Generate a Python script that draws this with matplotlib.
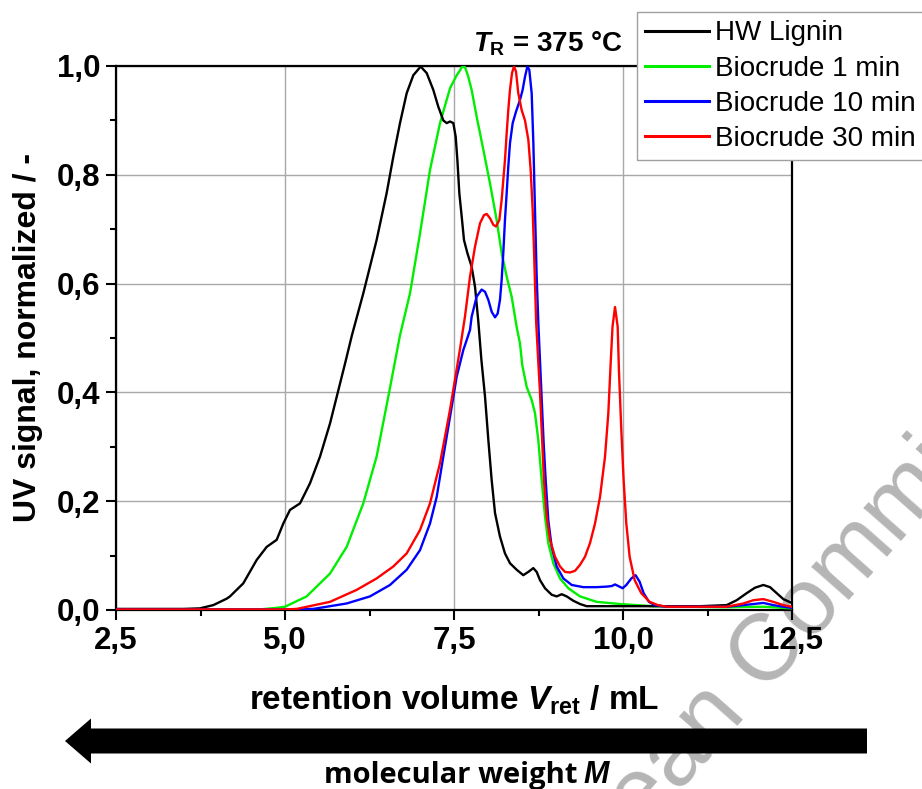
import matplotlib
matplotlib.use("Agg")
import matplotlib.pyplot as plt
from matplotlib.ticker import MultipleLocator, FixedLocator, FixedFormatter
from matplotlib.patches import FancyArrow

plt.rcParams['font.family'] = ['Liberation Sans', 'DejaVu Sans']
plt.rcParams['font.weight'] = 'bold'
plt.rcParams['mathtext.fontset'] = 'custom'
plt.rcParams['mathtext.rm'] = 'Liberation Sans:bold'
plt.rcParams['mathtext.bf'] = 'Liberation Sans:bold'
plt.rcParams['mathtext.it'] = 'Liberation Sans:italic:bold'

# ---------------- data ----------------
lignin_x = [2.5, 3.0, 3.5, 3.74, 3.94, 4.14, 4.186, 4.383, 4.581, 4.729, 4.877, 4.975, 5.074,
            5.222, 5.370, 5.518, 5.666, 5.765, 5.888, 5.99, 6.158, 6.355, 6.503, 6.602, 6.701,
            6.800, 6.898, 7.007, 7.096, 7.194, 7.268, 7.342, 7.392, 7.441, 7.490, 7.525, 7.550,
            7.579, 7.614, 7.648, 7.698, 7.761, 7.811, 7.860, 7.905, 7.959, 8.008, 8.057, 8.107,
            8.180, 8.254, 8.328, 8.427, 8.525, 8.599, 8.673, 8.723, 8.772, 8.846, 8.945, 9.019,
            9.093, 9.167, 9.265, 9.364, 9.462, 9.955, 10.40, 11.14, 11.534, 11.682, 11.83,
            11.953, 12.076, 12.175, 12.273, 12.372, 12.495]
lignin_y = [0.002, 0.002, 0.002, 0.003, 0.009, 0.021, 0.025, 0.049, 0.092, 0.116, 0.129, 0.159,
            0.184, 0.196, 0.233, 0.282, 0.343, 0.392, 0.453, 0.505, 0.582, 0.680, 0.766, 0.833,
            0.895, 0.950, 0.983, 0.999, 0.987, 0.956, 0.925, 0.900, 0.895, 0.898, 0.895, 0.870,
            0.827, 0.766, 0.723, 0.680, 0.656, 0.631, 0.594, 0.530, 0.460, 0.392, 0.3125, 0.239,
            0.178, 0.135, 0.104, 0.086, 0.074, 0.064, 0.070, 0.077, 0.070, 0.055, 0.040, 0.028,
            0.025, 0.029, 0.025, 0.017, 0.011, 0.007, 0.007, 0.007, 0.007, 0.009, 0.018, 0.031,
            0.041, 0.046, 0.042, 0.031, 0.020, 0.013]

bio1_x = [2.5, 4.0, 4.63, 4.877, 5.0, 5.32, 5.666, 5.912, 6.158, 6.355, 6.528, 6.701, 6.849,
          6.997, 7.145, 7.293, 7.441, 7.540, 7.589, 7.614, 7.663, 7.712, 7.761, 7.835, 7.934,
          8.033, 8.131, 8.205, 8.279, 8.353, 8.427, 8.476, 8.51, 8.575, 8.649, 8.698, 8.747,
          8.797, 8.846, 8.895, 8.969, 9.068, 9.191, 9.364, 9.610, 9.955, 10.448, 11.5, 12.076,
          12.495]
bio1_y = [0.001, 0.001, 0.001, 0.004, 0.006, 0.025, 0.067, 0.116, 0.196, 0.282, 0.392, 0.505,
          0.582, 0.692, 0.809, 0.895, 0.959, 0.983, 0.992, 0.998, 0.998, 0.980, 0.956, 0.907,
          0.846, 0.784, 0.717, 0.656, 0.613, 0.576, 0.520, 0.490, 0.450, 0.410, 0.386, 0.362,
          0.3125, 0.239, 0.172, 0.123, 0.086, 0.058, 0.040, 0.025, 0.015, 0.011, 0.007, 0.005,
          0.006, 0.003]

bio10_x = [2.5, 5.0, 5.419, 5.912, 6.257, 6.553, 6.8, 6.997, 7.145, 7.244, 7.342, 7.441, 7.540,
           7.638, 7.687, 7.737, 7.761, 7.835, 7.909, 7.959, 8.008, 8.058, 8.107, 8.146, 8.180,
           8.205, 8.229, 8.254, 8.279, 8.303, 8.328, 8.368, 8.417, 8.476, 8.515, 8.55, 8.585,
           8.614, 8.649, 8.674, 8.698, 8.723, 8.75, 8.775, 8.80, 8.825, 8.856, 8.895, 8.945,
           9.019, 9.118, 9.241, 9.413, 9.61, 9.758, 9.833, 9.882, 9.931, 9.995, 10.049, 10.123,
           10.186, 10.246, 10.305, 10.384, 10.467, 10.646, 11.534, 11.78, 11.93, 12.076, 12.223,
           12.372, 12.495]
bio10_y = [0.001, 0.001, 0.002, 0.012, 0.025, 0.046, 0.074, 0.110, 0.159, 0.208, 0.282, 0.355,
           0.429, 0.478, 0.496, 0.515, 0.539, 0.576, 0.589, 0.585, 0.570, 0.548, 0.538, 0.545,
           0.570, 0.607, 0.656, 0.717, 0.766, 0.815, 0.858, 0.895, 0.916, 0.9375, 0.956, 0.980,
           0.999, 0.993, 0.950, 0.858, 0.735, 0.613, 0.520, 0.450, 0.380, 0.310, 0.239, 0.165,
           0.116, 0.080, 0.058, 0.046, 0.042, 0.042, 0.043, 0.044, 0.047, 0.044, 0.040, 0.046,
           0.058, 0.064, 0.052, 0.031, 0.015, 0.009, 0.006, 0.006, 0.009, 0.011, 0.013, 0.009,
           0.006, 0.004]

bio30_x = [2.5, 5.0, 5.173, 5.666, 6.060, 6.355, 6.602, 6.8, 6.997, 7.145, 7.293, 7.441, 7.589,
           7.663, 7.737, 7.811, 7.885, 7.944, 7.984, 8.033, 8.082, 8.121, 8.171, 8.205, 8.229,
           8.254, 8.279, 8.303, 8.328, 8.358, 8.387, 8.417, 8.451, 8.501, 8.550, 8.600, 8.634,
           8.664, 8.688, 8.715, 8.745, 8.772, 8.797, 8.831, 8.871, 8.92, 8.994, 9.068, 9.142,
           9.216, 9.29, 9.364, 9.438, 9.512, 9.586, 9.66, 9.734, 9.783, 9.815, 9.845, 9.882,
           9.921, 9.94, 9.975, 10.009, 10.049, 10.098, 10.172, 10.27, 10.393, 10.516, 10.646,
           11.534, 11.78, 11.93, 12.076, 12.223, 12.372, 12.495]
bio30_y = [0.001, 0.001, 0.002, 0.015, 0.037, 0.058, 0.080, 0.104, 0.147, 0.196, 0.270, 0.368,
           0.480, 0.540, 0.613, 0.668, 0.711, 0.726, 0.728, 0.720, 0.708, 0.705, 0.717, 0.754,
           0.790, 0.827, 0.876, 0.919, 0.956, 0.987, 0.999, 0.990, 0.950, 0.919, 0.900, 0.864,
           0.809, 0.735, 0.643, 0.530, 0.460, 0.400, 0.331, 0.239, 0.172, 0.129, 0.098, 0.080,
           0.070, 0.069, 0.072, 0.083, 0.098, 0.123, 0.159, 0.208, 0.282, 0.362, 0.447, 0.521,
           0.557, 0.521, 0.440, 0.331, 0.239, 0.159, 0.098, 0.055, 0.031, 0.015, 0.009, 0.006,
           0.006, 0.012, 0.018, 0.020, 0.015, 0.009, 0.006]

series_labels = ["HW Lignin", "Biocrude 1 min", "Biocrude 10 min", "Biocrude 30 min"]
series_colors = ["black", "#00ee00", "#0000ff", "#ff0000"]

xtick_vals = [2.5, 5.0, 7.5, 10.0, 12.5]
xtick_labels = ["2,5", "5,0", "7,5", "10,0", "12,5"]
ytick_vals = [0.0, 0.2, 0.4, 0.6, 0.8, 1.0]
ytick_labels = ["0,0", "0,2", "0,4", "0,6", "0,8", "1,0"]

# ---------------- figure ----------------
W, H = 922, 789
fig = plt.figure(figsize=(W / 100, H / 100), dpi=100)
ax = fig.add_axes([116 / W, 1 - 610 / H, (792 - 116) / W, (610 - 66) / H])
ax.patch.set_alpha(0)

xs = [lignin_x, bio1_x, bio10_x, bio30_x]
ys = [lignin_y, bio1_y, bio10_y, bio30_y]
order = [1, 0, 2, 3]
lines = {}
for i in order:
    ln, = ax.plot(xs[i], ys[i], color=series_colors[i], lw=1.7, label=series_labels[i],
                  zorder=3, solid_joinstyle='round')
    lines[i] = ln

ax.set_xlim(2.5, 12.5)
ax.set_ylim(0, 1.0)
ax.xaxis.set_major_locator(FixedLocator(xtick_vals))
ax.xaxis.set_major_formatter(FixedFormatter(xtick_labels))
ax.yaxis.set_major_locator(FixedLocator(ytick_vals))
ax.yaxis.set_major_formatter(FixedFormatter(ytick_labels))
ax.xaxis.set_minor_locator(MultipleLocator(1.25))
ax.yaxis.set_minor_locator(MultipleLocator(0.1))
ax.tick_params(which='major', direction='out', length=7.5, width=1.5, labelsize=22.5, pad=4,
               top=False, right=False)
ax.tick_params(which='minor', direction='out', length=4.5, width=1.5, top=False, right=False)
for lab in ax.get_xticklabels() + ax.get_yticklabels():
    lab.set_fontweight('bold')
for sp in ax.spines.values():
    sp.set_linewidth(1.6)
ax.grid(True, which='major', color='#a8a8a8', lw=1.0, zorder=0)
ax.set_axisbelow(True)

ax.set_xlabel(r"retention volume $\mathit{V}_{\mathrm{ret}}$ / mL", fontsize=24, fontweight='bold')
ax.xaxis.set_label_coords(0.5, (610 - 684) / 544)
ax.set_ylabel("UV signal, normalized / -", fontsize=23, fontweight='bold')
ax.yaxis.set_label_coords((43 - 116) / 676, 0.5)

ax.text((548 - 116) / 676, (610 - 52) / 544, r"$\mathit{T}_{\mathrm{R}}$ = 375 °C",
        transform=ax.transAxes, ha='center', va='baseline', fontsize=20, fontweight='bold')

leg = fig.legend(handles=[lines[0], lines[1], lines[2], lines[3]], labels=series_labels,
                 loc='upper left', bbox_to_anchor=(637 / W, 1 - 12 / H), borderaxespad=0,
                 prop={'family': 'Liberation Sans', 'weight': 'normal', 'size': 20},
                 frameon=True, fancybox=False, framealpha=1, edgecolor='#a0a0a0',
                 borderpad=0.3, labelspacing=0.33, handlelength=2.3, handletextpad=0.2)
leg.get_frame().set_linewidth(1.0)
for l in leg.get_lines():
    l.set_linewidth(2.2)

# arrow (molecular weight direction)
arr = FancyArrow(867 / W, 1 - 741 / H, (65 - 867) / W, 0, width=25 / H, head_width=45 / H,
                 head_length=26 / W, length_includes_head=True, transform=fig.transFigure,
                 color='black', lw=0)
fig.add_artist(arr)
fig.text(577 / W, 1 - 783 / H, "molecular weight", ha='right', va='baseline',
         fontsize=21, fontweight='bold', family=['Open Sans', 'DejaVu Sans'])
fig.text(583 / W, 1 - 783 / H, "M", ha='left', va='baseline', fontsize=22,
         fontweight='bold', fontstyle='italic', family=['Liberation Sans', 'DejaVu Sans'])

# watermark
fig.text(774 / W, 1 - 647 / H, "European Commission", rotation=48.5, rotation_mode='anchor',
         ha='center', va='center', fontsize=68, color='#b5b5b5', fontweight='normal',
         zorder=-1)

fig.savefig("out.png", dpi=100)
